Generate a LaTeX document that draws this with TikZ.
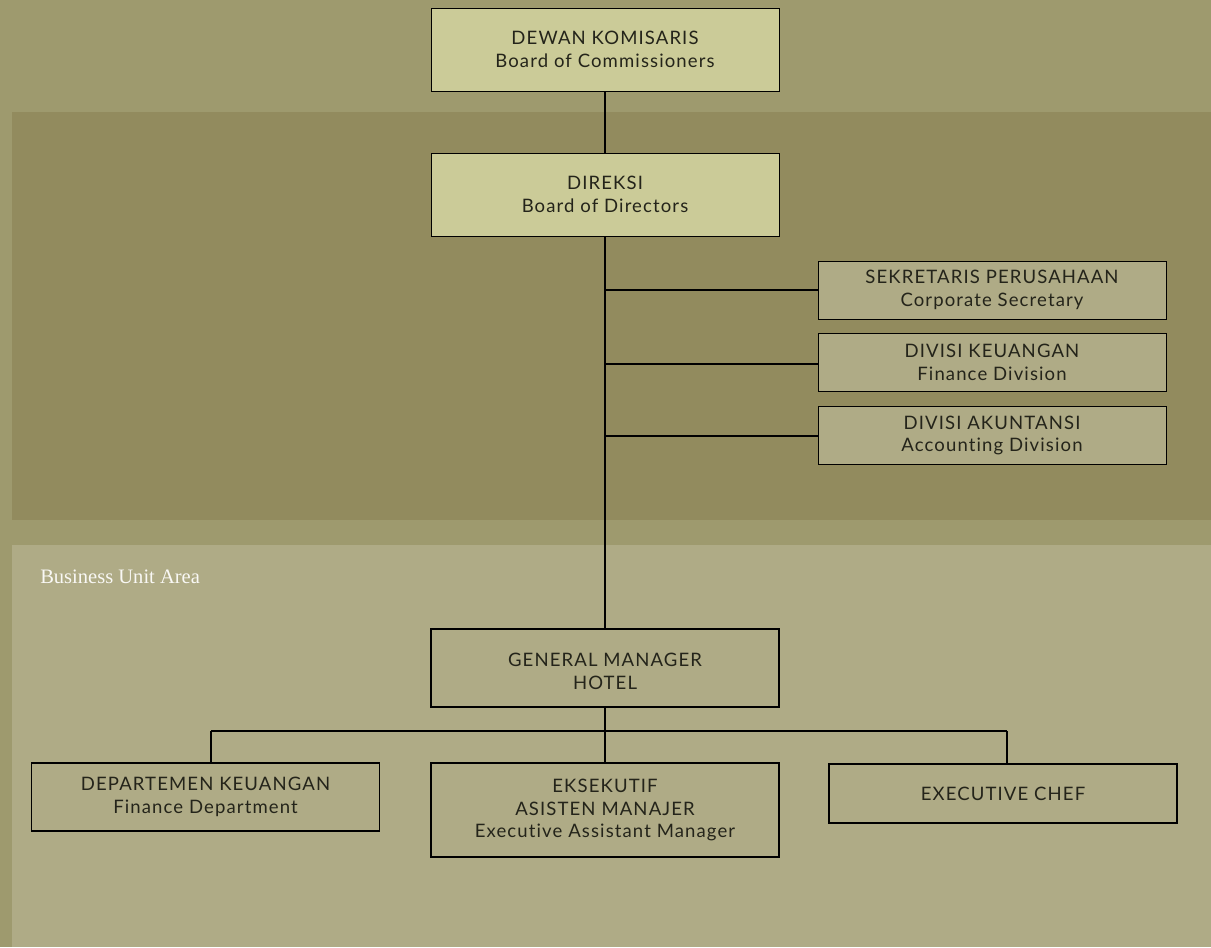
\documentclass[tikz,border=0pt]{standalone}
\usepackage{fontspec}
\setmainfont{Lato}[LetterSpace=6,Ligatures={CommonOff}]
\newfontfamily\serifbu{Liberation Serif}
\definecolor{bgA}{HTML}{9E9A6E}
\definecolor{bgB}{HTML}{928B5E}
\definecolor{bgC}{HTML}{AFAB86}
\definecolor{boxtop}{HTML}{CBCB98}
\definecolor{txt}{HTML}{24241A}
\begin{document}
\begin{tikzpicture}[x=0.75pt,y=-0.75pt,
  orgbox/.style={draw=black,line width=0.9pt,inner sep=0pt,align=center,text=txt,
     font=\fontsize{13.9}{17.2}\selectfont},
  topbox/.style={orgbox,fill=boxtop,line width=0.7pt},
  sidebox/.style={orgbox,fill=bgC,line width=0.7pt},
  lowbox/.style={orgbox,line width=1.2pt},
  conn/.style={draw=black,line width=1.2pt}]
\useasboundingbox (0,0) rectangle (1211,947);
\fill[bgA] (0,0) rectangle (1211,947);
\fill[bgB] (12,112) rectangle (1211,520);
\fill[bgC] (12,545) rectangle (1211,947);
\node[anchor=base west,inner sep=0pt,text=white!92!bgC,font=\serifbu\fontsize{15.4}{18}\selectfont] (bua) at (40,583) {Business Unit Area};

\node[topbox,minimum width=348*0.75pt,minimum height=83*0.75pt] (dk) at (605,49.5) {DEWAN KOMISARIS\\Board of Commissioners};
\node[topbox,minimum width=348*0.75pt,minimum height=83*0.75pt] (dir) at (605,194.5) {DIREKSI\\Board of Directors};
\node[sidebox,minimum width=348*0.75pt,minimum height=58*0.75pt] (sek) at (992,290) {SEKRETARIS PERUSAHAAN\\Corporate Secretary};
\node[sidebox,minimum width=348*0.75pt,minimum height=58*0.75pt] (keu) at (992,362) {DIVISI KEUANGAN\\Finance Division};
\node[sidebox,minimum width=348*0.75pt,minimum height=58*0.75pt] (ak) at (992,435.5) {DIVISI AKUNTANSI\\Accounting Division};
\node[lowbox,minimum width=348*0.75pt,minimum height=78*0.75pt] (gm) at (605,668) {};
\node[align=center,text=txt,inner sep=0pt,font=\fontsize{13.9}{17.2}\selectfont] (gmt) at (605,671) {GENERAL MANAGER\\HOTEL};
\node[lowbox,minimum width=348*0.75pt,minimum height=68*0.75pt] (dept) at (205.5,797) {DEPARTEMEN KEUANGAN\\Finance Department};
\node[lowbox,minimum width=348*0.75pt,minimum height=94*0.75pt] (eam) at (605,810) {EKSEKUTIF\\ASISTEN MANAJER\\Executive Assistant Manager};
\node[lowbox,minimum width=348*0.75pt,minimum height=59*0.75pt] (chef) at (1003,793.5) {EXECUTIVE CHEF};

\coordinate (j1) at (605,290);
\coordinate (j2) at (605,364);
\coordinate (j3) at (605,436);
\coordinate (jl) at (211,731);
\coordinate (jr) at (1007,731);

\draw[conn] (dk.south) -- (dir.north);
\draw[conn] (dir.south) -- (gm.north);
\draw[conn] (j1) -- (sek.west);
\draw[conn] (j2) -- (keu.west|-j2);
\draw[conn] (j3) -- (ak.west|-j3);
\draw[conn] (gm.south) -- (eam.north);
\draw[conn] (jl) -- (jr);
\draw[conn] (jl) -- (jl|-dept.north);
\draw[conn] (jr) -- (jr|-chef.north);
\end{tikzpicture}
\end{document}
